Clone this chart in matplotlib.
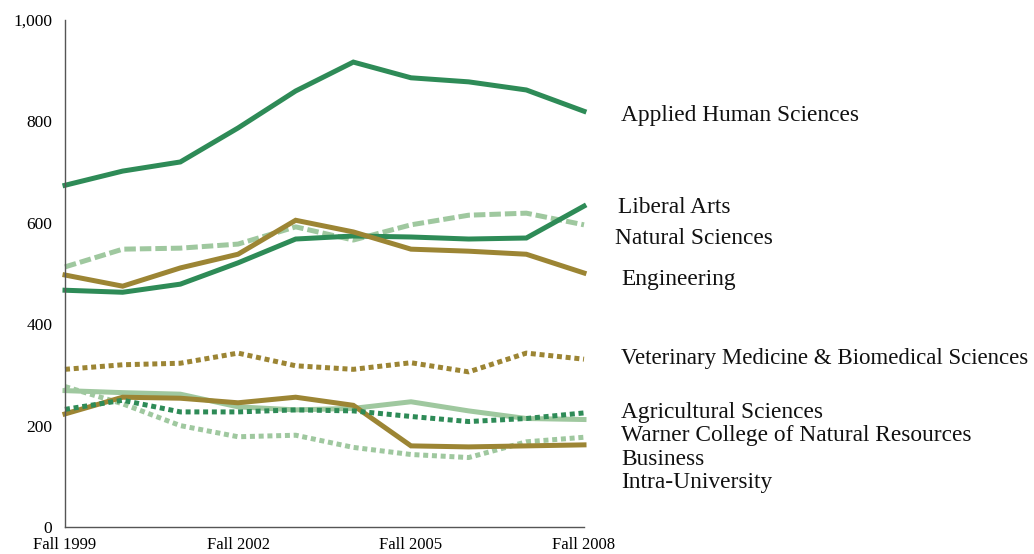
import matplotlib.pyplot as plt

# Enrollment by college, Fall 1999 - Fall 2008
years = ["Fall 1999", "Fall 2000", "Fall 2001", "Fall 2002", "Fall 2003",
         "Fall 2004", "Fall 2005", "Fall 2006", "Fall 2007", "Fall 2008"]

applied_human = [674, 702, 720, 787, 860, 917, 886, 878, 862, 820]
liberal_arts = [467, 463, 479, 521, 568, 574, 572, 568, 570, 633]
natural_sci = [513, 548, 550, 558, 592, 566, 596, 615, 619, 596]
engineering = [497, 475, 511, 538, 605, 582, 548, 544, 538, 501]
vet_med = [311, 320, 323, 343, 318, 311, 324, 306, 343, 331]
agricultural = [269, 265, 262, 237, 231, 234, 247, 229, 214, 212]
warner = [232, 250, 227, 227, 231, 229, 218, 208, 214, 225]
business = [223, 256, 254, 245, 256, 240, 160, 158, 160, 162]
intra_univ = [277, 243, 200, 178, 181, 157, 143, 137, 168, 177]

DARK = "#2e8b57"
GOLD = "#9c8534"
LIGHT = "#9fc89f"

plt.rcParams["font.family"] = ["Liberation Serif", "DejaVu Serif"]

fig = plt.figure(figsize=(10.34, 5.54), dpi=100)
ax = fig.add_axes([65 / 1034, 27 / 554, 519 / 1034, 507 / 554])

x = list(range(len(years)))
lw = 3.6
dotted = (0, (1.0, 0.75))
dashed = (0, (2.3, 0.8))

series = [
    (intra_univ, LIGHT, dotted),
    (agricultural, LIGHT, "-"),
    (business, GOLD, "-"),
    (warner, DARK, dotted),
    (vet_med, GOLD, dotted),
    (natural_sci, LIGHT, dashed),
    (liberal_arts, DARK, "-"),
    (engineering, GOLD, "-"),
    (applied_human, DARK, "-"),
]
for vals, col, ls in series:
    ax.plot(x, vals, color=col, lw=lw, ls=ls, clip_on=False,
            solid_joinstyle="miter", dash_capstyle="butt")

ax.set_xlim(0, 9)
ax.set_ylim(0, 1000)
ax.set_xticks([0, 3, 6, 9])
ax.set_xticklabels([years[0], years[3], years[6], years[9]])
ax.set_yticks(range(0, 1001, 200))
ax.set_yticklabels(["0", "200", "400", "600", "800", "1,000"])
ax.tick_params(axis="both", length=0)
ax.tick_params(axis="y", pad=9, labelsize=12.5)
ax.tick_params(axis="x", pad=7, labelsize=12)
for s in ["top", "right"]:
    ax.spines[s].set_visible(False)
for s in ["left", "bottom"]:
    ax.spines[s].set_color("#555555")
    ax.spines[s].set_linewidth(1)

# labels on the right
labels = [
    ("Applied Human Sciences", 621, 121),
    ("Liberal Arts", 618, 213),
    ("Natural Sciences", 615, 244),
    ("Engineering", 621, 285),
    ("Veterinary Medicine & Biomedical Sciences", 621, 364),
    ("Agricultural Sciences", 621, 418),
    ("Warner College of Natural Resources", 621, 441),
    ("Business", 621, 465),
    ("Intra-University", 621, 488),
]
for txt, px, py in labels:
    size = 16.5 if txt.startswith("Veterinary") else 16.8
    fig.text(px / 1034, (554 - py) / 554, txt, fontsize=size,
             va="baseline", ha="left", color="#111111")

fig.savefig("out.png", dpi=100)
